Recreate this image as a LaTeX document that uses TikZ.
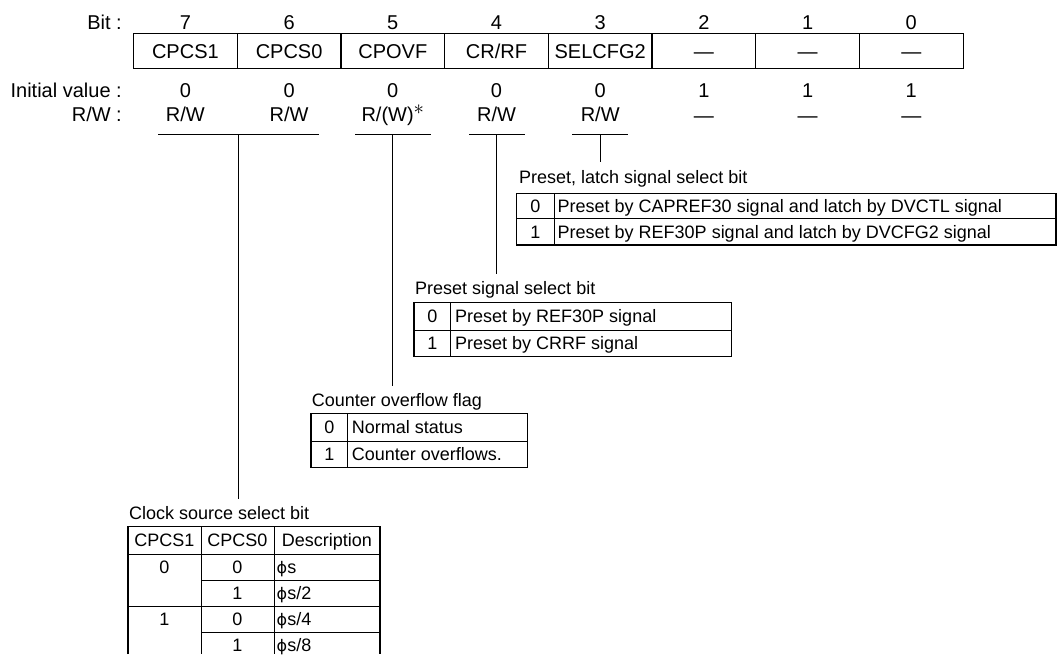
\documentclass[tikz,border=0pt]{standalone}
\usepackage{fontspec}
\setmainfont{Liberation Sans}
\newfontfamily\symfont{DejaVu Sans}
\newcommand{\phis}{{\symfont\fontsize{16}{20}\selectfont ϕ}s}
\begin{document}
\begin{tikzpicture}[x=1pt,y=-1pt,
  reg/.style={font=\fontsize{20}{24}\selectfont, inner sep=0pt, anchor=base},
  regr/.style={reg, anchor=base east},
  tab/.style={font=\fontsize{18}{22}\selectfont, inner sep=0pt, anchor=base},
  tabl/.style={tab, anchor=base west},
  ln/.style={line width=1pt},
  frame/.style={line width=1.2pt}]
\useasboundingbox (0,0) rectangle (1058,654);

% ---------- register ----------
\node[regr] (lbit) at (122,29.5) {Bit :};
\node[regr] (linit) at (122,97) {Initial value :};
\node[regr] (lrw) at (122,121.5) {R/W :};

\draw[frame] (133.5,33.5) rectangle (963.3,68.5);
\foreach \x in {237.2,340.9,444.6,548.3,652.0,755.7,859.4}
  \draw[frame] (\x,33.5) -- (\x,68.5);

\foreach \x/\n in {185.4/7,289.1/6,392.8/5,496.5/4,600.2/3,703.9/2,807.6/1,911.3/0}
  \node[reg] (bit\n) at (\x,29.5) {\n};

\node[reg] (f7) at (185.4,58) {CPCS1};
\node[reg] (f6) at (289.1,58) {CPCS0};
\node[reg] (f5) at (392.8,58) {CPOVF};
\node[reg] (f4) at (496.5,58) {CR/RF};
\node[reg] (f3) at (600.2,58) {SELCFG2};
\node[reg] (f2) at (703.9,58) {—};
\node[reg] (f1) at (807.6,58) {—};
\node[reg] (f0) at (911.3,58) {—};

\foreach \x/\n/\v in {185.4/7/0,289.1/6/0,392.8/5/0,496.5/4/0,600.2/3/0,703.9/2/1,807.6/1/1,911.3/0/1}
  \node[reg] (iv\n) at (\x,97) {\v};

\node[reg] (rw7) at (185.4,121.5) {R/W};
\node[reg] (rw6) at (289.1,121.5) {R/W};
\node[reg] (rw5) at (392.8,121.5) {R/(W)\raisebox{7pt}{$\ast$}};
\node[reg] (rw4) at (496.5,121.5) {R/W};
\node[reg] (rw3) at (600.2,121.5) {R/W};
\node[reg] (rw2) at (703.9,122.5) {—};
\node[reg] (rw1) at (807.6,122.5) {—};
\node[reg] (rw0) at (911.3,122.5) {—};

% ---------- underlines and leaders ----------
\coordinate (u76a) at (158,134);  \coordinate (u76b) at (319,134);
\coordinate (u5a) at (355,134);   \coordinate (u5b) at (431,134);
\coordinate (u4a) at (469,134);   \coordinate (u4b) at (525,134);
\coordinate (u3a) at (572,134);   \coordinate (u3b) at (628,134);
\draw[ln] (u76a) -- (u76b);
\draw[ln] (u5a) -- (u5b);
\draw[ln] (u4a) -- (u4b);
\draw[ln] (u3a) -- (u3b);

\coordinate (s76) at (238.5,134); \coordinate (e76) at (238.5,499);
\coordinate (s5) at (392.8,134);  \coordinate (e5) at (392.8,386);
\coordinate (s4) at (496.7,134);  \coordinate (e4) at (496.7,274);
\coordinate (s3) at (600.2,134);  \coordinate (e3) at (600.2,162);
\draw[ln] (s76) -- (e76);
\draw[ln] (s5) -- (e5);
\draw[ln] (s4) -- (e4);
\draw[ln] (s3) -- (e3);

% ---------- Preset, latch signal select bit ----------
\node[tabl] (t3) at (519,183) {Preset, latch signal select bit};
\draw[frame] (516.7,193.3) rectangle (1056,245);
\draw[ln] (516.7,218.8) -- (1056,218.8);
\draw[ln] (554,193.3) -- (554,245);
\node[tab] (t3a) at (535.3,212.4) {0};
\node[tabl] (t3b) at (557.5,212.4) {Preset by CAPREF30 signal and latch by DVCTL signal};
\node[tab] (t3c) at (535.3,238.3) {1};
\node[tabl] (t3d) at (557.5,238.3) {Preset by REF30P signal and latch by DVCFG2 signal};

% ---------- Preset signal select bit ----------
\node[tabl] (t4) at (415,294) {Preset signal select bit};
\draw[frame] (414,302.7) rectangle (731.7,356.5);
\draw[ln] (414,330) -- (731.7,330);
\draw[ln] (450.7,302.7) -- (450.7,356.5);
\node[tab] (t4a) at (432.3,322.7) {0};
\node[tabl] (t4b) at (455,322.7) {Preset by REF30P signal};
\node[tab] (t4c) at (432.3,349.6) {1};
\node[tabl] (t4d) at (455,349.6) {Preset by CRRF signal};

% ---------- Counter overflow flag ----------
\node[tabl] (t5) at (311.7,406.5) {Counter overflow flag};
\draw[frame] (311,413.3) rectangle (527.7,467.3);
\draw[ln] (311,441) -- (527.7,441);
\draw[ln] (347.7,413.3) -- (347.7,467.3);
\node[tab] (t5a) at (329.4,433.6) {0};
\node[tabl] (t5b) at (351.7,433.6) {Normal status};
\node[tab] (t5c) at (329.4,460.6) {1};
\node[tabl] (t5d) at (351.7,460.6) {Counter overflows.};

% ---------- Clock source select bit ----------
\node[tabl] (t76) at (129,519) {Clock source select bit};
\draw[frame] (128,654) -- (128,526.7) -- (380,526.7) -- (380,654);
\draw[ln] (201,526.7) -- (201,654);
\draw[ln] (274,526.7) -- (274,654);
\draw[ln] (128,554) -- (380,554);
\draw[ln] (201,580) -- (380,580);
\draw[ln] (128,606) -- (380,606);
\draw[ln] (201,632) -- (380,632);
\node[tab] (h1) at (164.5,546.7) {CPCS1};
\node[tab] (h2) at (237.5,546.7) {CPCS0};
\node[tab] (h3) at (327,546.7) {Description};
\node[tab] (c10) at (164.5,573.4) {0};
\node[tab] (c11) at (164.5,625.4) {1};
\node[tab] (c01) at (237.5,573.4) {0};
\node[tab] (c02) at (237.5,599.4) {1};
\node[tab] (c03) at (237.5,625.4) {0};
\node[tab] (c04) at (237.5,651.4) {1};
\node[tabl] (d1) at (276.5,573.4) {\phis};
\node[tabl] (d2) at (276.5,599.4) {\phis/2};
\node[tabl] (d3) at (276.5,625.4) {\phis/4};
\node[tabl] (d4) at (276.5,651.4) {\phis/8};
\end{tikzpicture}
\end{document}
